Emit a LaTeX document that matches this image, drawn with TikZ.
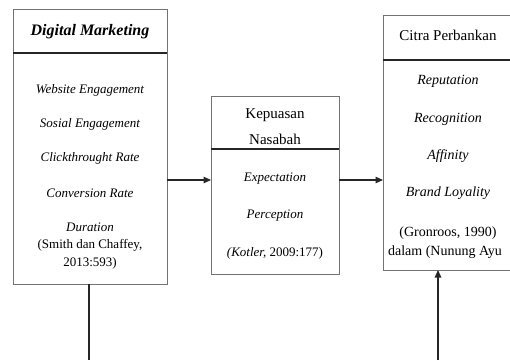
\documentclass[tikz,border=0pt]{standalone}
\usepackage{fontspec}
\setmainfont{Liberation Serif}
\usetikzlibrary{arrows.meta}
\begin{document}
\begin{tikzpicture}[x=1pt,y=-1pt,
  box/.style={draw=black!55, line width=1pt, inner sep=0pt, outer sep=0pt, fill=white},
  divider/.style={line width=1.4pt, draw=black!85},
  conn/.style={line width=1.2pt, draw=black!85},
  arr/.style={conn, -{Triangle[length=7.5pt,width=6.5pt]}},
  txt/.style={anchor=base, inner sep=0pt, outer sep=0pt},
  headbi/.style={txt, font=\fontsize{16}{18}\selectfont\bfseries\itshape},
  headr/.style={txt, font=\fontsize{15}{17}\selectfont},
  itemA/.style={txt, font=\fontsize{13}{15}\selectfont\itshape},
  citeA/.style={txt, font=\fontsize{13}{15}\selectfont},
  itemB/.style={txt, font=\fontsize{14}{16}\selectfont\itshape},
  citeB/.style={txt, font=\fontsize{14}{16}\selectfont}]
\useasboundingbox (0,0) rectangle (510,360);
\clip (0,0) rectangle (510,360);

% boxes
\node[box, minimum width=154pt, minimum height=275pt] (dm) at (90,146.5) {};
\node[box, minimum width=128pt, minimum height=178pt] (kn) at (275,185) {};
\node[box, minimum width=130pt, minimum height=255pt] (cp) at (448,142.5) {};

% dividers
\draw[divider] (dm.west |- 0,53) -- (dm.east |- 0,53);
\draw[divider] (kn.west |- 0,149) -- (kn.east |- 0,149);
\draw[divider] (cp.west |- 0,60) -- (cp.east |- 0,60);

% left box texts
\node[headbi] (dmh) at (90,35.3) {Digital Marketing};
\node[itemA] (dm1) at (90,93.3) {Website Engagement};
\node[itemA] (dm2) at (90,127.3) {Sosial Engagement};
\node[itemA] (dm3) at (90,161.3) {Clickthrought Rate};
\node[itemA] (dm4) at (90,197.3) {Conversion Rate};
\node[itemA] (dm5) at (90,231.3) {Duration};
\node[citeA] (dm6) at (90,248.3) {(Smith dan Chaffey,};
\node[citeA] (dm7) at (90,266.3) {2013:593)};

% middle box texts
\node[headr] (knh1) at (275,118) {Kepuasan};
\node[headr] (knh2) at (275,144) {Nasabah};
\node[itemA] (kn1) at (275,181.3) {Expectation};
\node[itemA] (kn2) at (275,218.3) {Perception};
\node[citeA] (kn3) at (275,256.3) {\textit{(Kotler,} 2009:177)};

% right box texts
\node[headr] (cph) at (448,40) {Citra Perbankan};
\node[itemB] (cp1) at (448,84.6) {Reputation};
\node[itemB] (cp2) at (448,122.6) {Recognition};
\node[itemB] (cp3) at (448,159.6) {Affinity};
\node[itemB] (cp4) at (448,196.6) {Brand Loyality};
\node[citeB] (cp5) at (448,236.6) {(Gronroos, 1990)};
\node[citeB] (cp6) at (445,255.6) {dalam (Nunung Ayu};

% connectors
\coordinate (rowy) at (0,180);
\draw[arr] (dm.east |- rowy) -- (kn.west |- rowy);
\draw[arr] (kn.east |- rowy) -- (cp.west |- rowy);
\coordinate (dmfoot) at (89,360);
\coordinate (cpfoot) at (438,360);
\draw[conn] (dm.south -| dmfoot) -- (dmfoot);
\draw[arr] (cpfoot) -- (cp.south -| cpfoot);
\end{tikzpicture}
\end{document}
